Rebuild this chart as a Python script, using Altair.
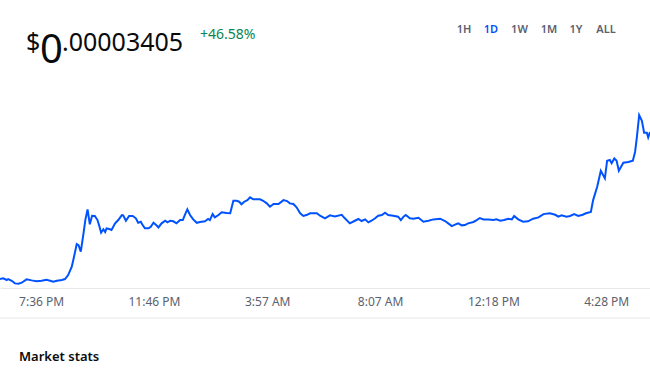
import altair as alt
import pandas as pd

# minutes after the first sample (6:05 PM) and price in units of 1e-8 USD
minutes = [0, 7, 15, 18, 26, 33, 41, 48, 59, 70, 81, 92, 103, 111, 118, 126, 137, 144, 151, 159,
           164, 170, 174, 179, 185, 189, 194, 199, 204, 210, 216, 220, 224, 229, 233, 236, 242,
           247, 255, 262, 270, 273, 279, 286, 294, 301, 306, 312, 316, 321, 329, 334, 340, 346,
           351, 358, 366, 371, 377, 384, 391, 399, 405, 411, 415, 421, 428, 436, 443,
           454, 461, 465, 471, 476, 484, 491, 502, 510, 517, 524, 530, 535, 541, 548, 554, 561,
           569, 576, 583, 591, 598, 606, 617, 628, 636, 642, 650, 657, 665, 672, 679, 687,
           702, 709, 720, 731, 742, 757, 764, 775, 786, 794, 801, 809, 816, 823, 831, 838, 846,
           853, 860, 871, 882, 888, 894, 899, 908,
           916, 927, 938, 949, 960, 975, 986, 993, 1001, 1008, 1015, 1023, 1030, 1037, 1049,
           1056, 1063, 1071, 1082, 1093, 1100, 1108,
           1117, 1126, 1134, 1139, 1148, 1159, 1170, 1181, 1193, 1204, 1218, 1230, 1237, 1244,
           1255, 1263, 1272, 1281, 1291, 1298, 1309, 1314, 1323, 1331, 1340, 1345, 1351, 1355,
           1361, 1366, 1371, 1381, 1392, 1402, 1407, 1411, 1416, 1422, 1427, 1433, 1436, 1440]
price_e8 = [2323, 2328, 2316, 2323, 2310, 2291, 2288, 2296, 2321, 2313, 2306, 2310, 2318, 2310, 2303, 2310, 2316, 2323, 2352, 2414,
            2487, 2581, 2573, 2524, 2659, 2757, 2836, 2726, 2789, 2787, 2757, 2713, 2664, 2689, 2669, 2696, 2691,
            2684, 2733, 2757, 2794, 2792, 2752, 2787, 2787, 2770, 2737, 2745, 2720, 2696, 2696, 2708, 2737, 2720,
            2703, 2733, 2752, 2740, 2752, 2748, 2733, 2757, 2757, 2807, 2836, 2794, 2762, 2737, 2743,
            2748, 2765, 2757, 2801, 2777, 2794, 2814, 2809, 2807, 2899, 2899, 2892, 2873, 2892, 2904, 2924, 2910,
            2910, 2910, 2899, 2880, 2855, 2875, 2875, 2904, 2897, 2880, 2875, 2851, 2807, 2787, 2794, 2807,
            2807, 2789, 2770, 2792, 2784, 2796, 2770, 2733, 2752, 2765, 2750, 2762, 2740, 2752, 2770, 2789, 2794,
            2811, 2794, 2789, 2782, 2757, 2782, 2794, 2770,
            2767, 2774, 2745, 2752, 2762, 2767, 2750, 2733, 2713, 2723, 2733, 2718, 2720, 2733, 2743,
            2757, 2772, 2762, 2762, 2757, 2762, 2752,
            2757, 2767, 2762, 2787, 2762, 2745, 2748, 2767, 2777, 2801, 2807, 2796, 2782, 2792,
            2782, 2787, 2801, 2787, 2796, 2807, 2816, 2904, 3002, 3120, 3064, 3194, 3199, 3175,
            3211, 3194, 3120, 3179, 3184, 3194, 3260, 3370, 3530, 3488, 3400, 3400, 3366, 3405]

tick_times = [(19, 36, 14), (23, 46, 14), (3, 57, 15), (8, 7, 15), (12, 18, 15), (16, 28, 15)]
tabs = ["1H", "1D", "1W", "1M", "1Y", "ALL"]
price_text = ["$", "0", ".00003405"]
change_text = "+46.58%"
section_title = "Market stats"

start = pd.Timestamp("2024-01-14 18:05:00")
df = pd.DataFrame({
    "time": [start + pd.Timedelta(minutes=m) for m in minutes],
    "price": [p * 1e-8 for p in price_e8],
})

W, H, TOP = 650, 208, 80
FONT = "Noto Sans"
BLUE = "#0052ff"
GRAY = "#5b616e"

x_enc = alt.X(
    "time:T",
    scale=alt.Scale(domain=[alt.DateTime(year=2024, month=1, date=14, hours=18, minutes=5),
                            alt.DateTime(year=2024, month=1, date=15, hours=18, minutes=5)]),
    axis=alt.Axis(
        title=None,
        values=[alt.DateTime(year=2024, month=1, date=d, hours=h, minutes=mi) for h, mi, d in tick_times],
        format="%-I:%M %p",
        grid=False, ticks=False, tickSize=0,
        domainColor="#e6e8ea", domainWidth=1,
        labelColor=GRAY, labelFont=FONT, labelFontSize=12,
        labelPadding=8, labelFlush=False, labelOverlap=False,
    ),
)
y_enc = alt.Y("price:Q", scale=alt.Scale(domain=[2257e-8, 3788e-8], zero=False, nice=False), axis=None)

line = alt.Chart(df).mark_line(color=BLUE, strokeWidth=2, clip=True).encode(x=x_enc, y=y_enc)

one = pd.DataFrame({"k": [0]})

def txt(text, x, y, size, color="#0a0b0d", weight="normal", align="left"):
    return alt.Chart(one).mark_text(
        text=text, font=FONT, fontSize=size, color=color, fontWeight=weight,
        align=align, baseline="alphabetic",
    ).encode(x=alt.value(x), y=alt.value(y - TOP))

layers = [line]
layers.append(txt(price_text[0], 26, 51, 25))
layers.append(txt(price_text[1], 40, 63, 40))
layers.append(txt(price_text[2], 62, 51, 25))
layers.append(txt(change_text, 200, 39, 14, color="#098551"))
tab_x = [464, 491, 519.5, 549, 576, 606]
for lab, tx in zip(tabs, tab_x):
    layers.append(txt(lab, tx, 33, 11, color=BLUE if lab == "1D" else GRAY, weight=600, align="center"))
layers.append(txt(section_title, 19, 361, 13, weight=600))

sep = alt.Chart(one).mark_rule(color="#e6e8ea", strokeWidth=1).encode(
    x=alt.value(0), x2=alt.value(W), y=alt.value(318 - TOP))
layers.append(sep)

chart = alt.layer(*layers).properties(
    width=W, height=H,
    padding={"left": 0, "top": TOP, "right": 0, "bottom": 373 - TOP - H},
    autosize=alt.AutoSizeParams(type="none"),
    background="white",
).configure_view(strokeWidth=0)

chart.save("out.html", embed_options={"renderer": "svg", "actions": False})
